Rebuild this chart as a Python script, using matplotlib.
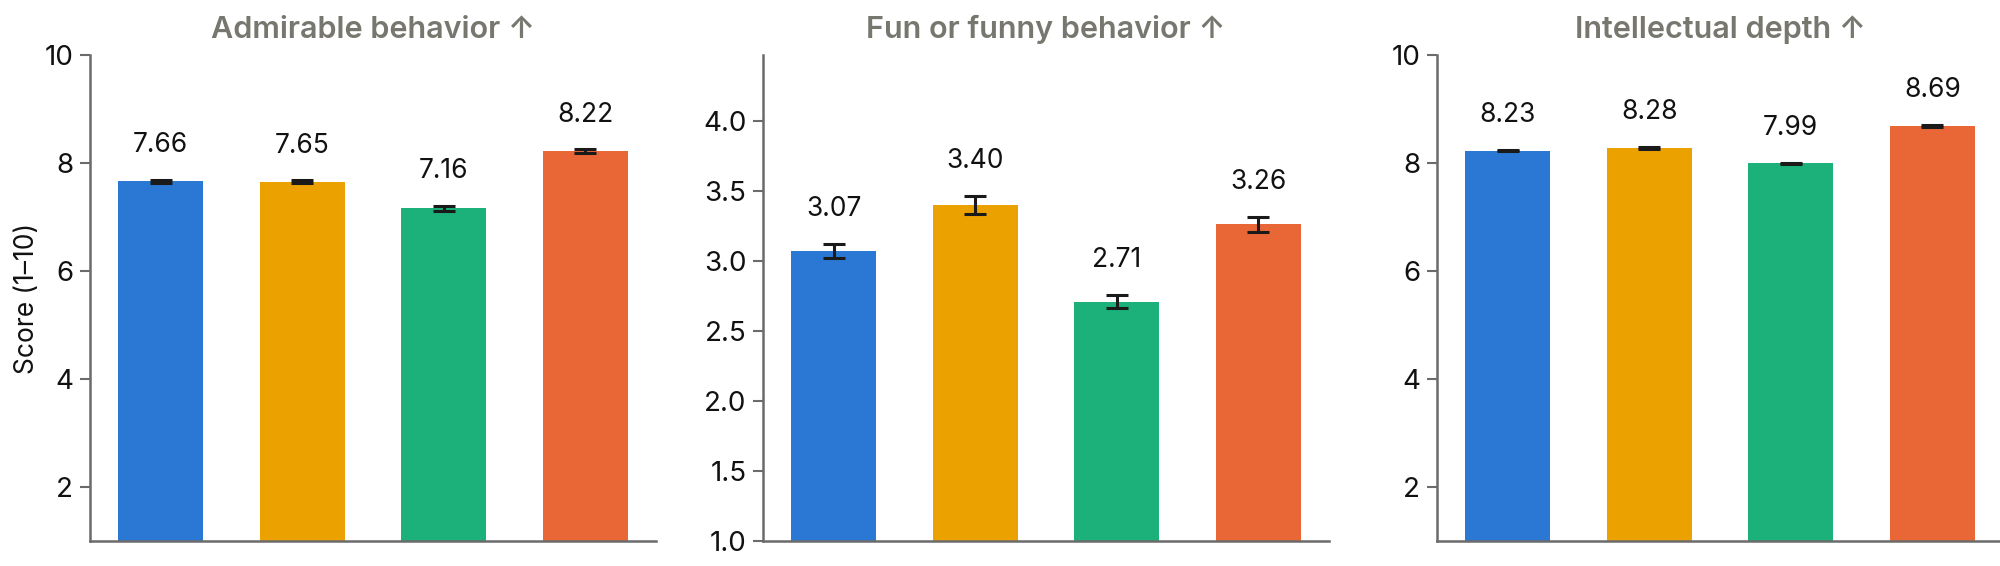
import numpy as np
import matplotlib
matplotlib.use('Agg')
import matplotlib.pyplot as plt

plt.rcParams['font.family'] = ['Inter', 'DejaVu Sans']

models = ['A', 'B', 'C', 'D']
colors = ['#2B78D4', '#EBA200', '#1CB07A', '#E96736']

titles = ['Admirable behavior \u2191', 'Fun or funny behavior \u2191', 'Intellectual depth \u2191']

admirable = [7.66, 7.65, 7.16, 8.22]
admirable_err = [0.03, 0.03, 0.05, 0.03]
funny = [3.07, 3.40, 2.71, 3.26]
funny_err = [0.053, 0.063, 0.048, 0.052]
depth = [8.23, 8.28, 7.99, 8.69]
depth_err = [0.017, 0.017, 0.017, 0.017]

panels = [
    (admirable, admirable_err, (1, 10), [2, 4, 6, 8, 10], '{:.0f}'),
    (funny, funny_err, (1, 4.47), [1.0, 1.5, 2.0, 2.5, 3.0, 3.5, 4.0], '{:.1f}'),
    (depth, depth_err, (1, 10), [2, 4, 6, 8, 10], '{:.0f}'),
]

fig = plt.figure(figsize=(20, 5.66), dpi=100)
lefts = [0.045, 0.3815, 0.7185]
spine_col = '#6b6b6b'

for i, (vals, errs, ylim, ticks, fmt) in enumerate(panels):
    ax = fig.add_axes([lefts[i], 0.044, 0.283, 0.859])
    x = np.arange(len(models))
    ax.bar(x, vals, width=0.6, color=colors, zorder=2)
    ax.errorbar(x, vals, yerr=errs, fmt='none', ecolor='#1a1a1a',
                elinewidth=2.2, capsize=8, capthick=2.2, zorder=3)
    for xi, v, e in zip(x, vals, errs):
        ax.annotate(f'{v:.2f}', (xi, v + e), xytext=(0, 25), textcoords='offset points',
                    ha='center', va='center', fontsize=19, color='#111111')
    ax.set_xlim(-0.5, 3.5)
    ax.set_ylim(*ylim)
    ax.set_yticks(ticks)
    ax.set_yticklabels([fmt.format(t) for t in ticks])
    ax.set_xticks([])
    ax.tick_params(axis='y', length=7, width=1.5, color=spine_col, labelsize=20,
                   labelcolor='#111111', pad=5)
    for s in ['top', 'right']:
        ax.spines[s].set_visible(False)
    for s in ['left', 'bottom']:
        ax.spines[s].set_color(spine_col)
        ax.spines[s].set_linewidth(1.8)
    ax.set_title(titles[i], fontsize=22, fontweight='semibold', color='#77776F', pad=12)
    if i == 0:
        ax.set_ylabel('Score (1\u201310)', fontsize=19, color='#111111', labelpad=3)

fig.savefig('out.png', dpi=100)
